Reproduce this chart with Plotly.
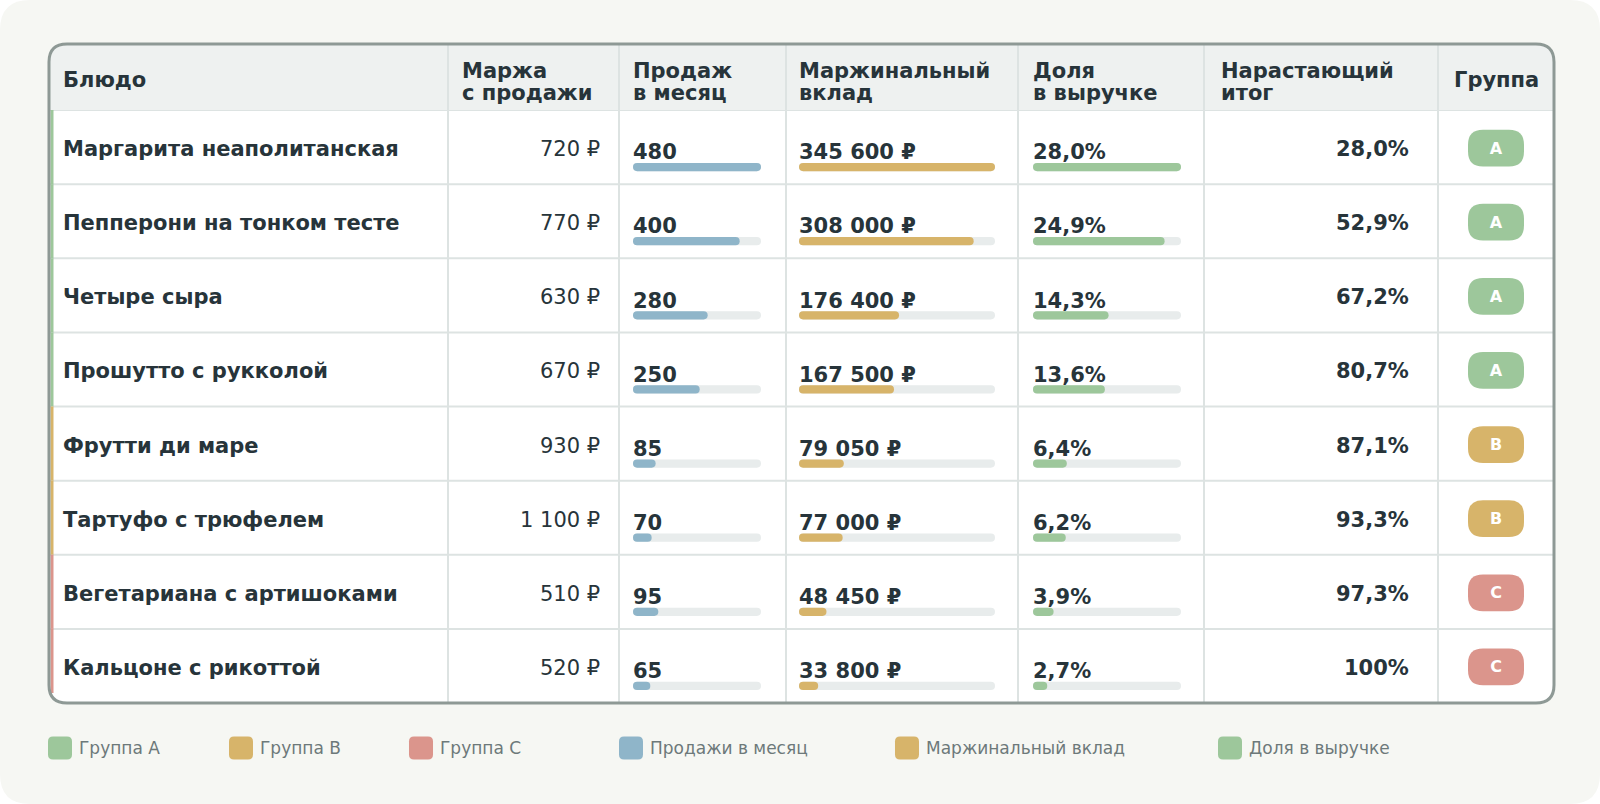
import plotly.graph_objects as go

W, H = 1600, 804

dishes = [
    "Маргарита неаполитанская",
    "Пепперони на тонком тесте",
    "Четыре сыра",
    "Прошутто с рукколой",
    "Фрутти ди маре",
    "Тартуфо с трюфелем",
    "Вегетариана с артишоками",
    "Кальцоне с рикоттой",
]
margin_rub = [720, 770, 630, 670, 930, 1100, 510, 520]
sales = [480, 400, 280, 250, 85, 70, 95, 65]
contribution = [345600, 308000, 176400, 167500, 79050, 77000, 48450, 33800]
share = [28.0, 24.9, 14.3, 13.6, 6.4, 6.2, 3.9, 2.7]
cumulative = [28.0, 52.9, 67.2, 80.7, 87.1, 93.3, 97.3, 100.0]
groups = ["A", "A", "A", "A", "B", "B", "C", "C"]

headers = [
    ["Блюдо"],
    ["Маржа", "с продажи"],
    ["Продаж", "в месяц"],
    ["Маржинальный", "вклад"],
    ["Доля", "в выручке"],
    ["Нарастающий", "итог"],
    ["Группа"],
]
legend_labels = ["Группа A", "Группа B", "Группа C",
                 "Продажи в месяц", "Маржинальный вклад", "Доля в выручке"]

# colours
TEXT = "#27343a"
GRID = "#dde3e2"
BORDER = "#8e9995"
HEAD_BG = "#eef1f0"
TRACK = "#e8ecec"
BLUE = "#8fb5c9"
GOLD = "#d7b46a"
GREEN = "#9dc79b"
RED = "#db958c"
group_colors = {"A": GREEN, "B": GOLD, "C": RED}
legend_colors = [GREEN, GOLD, RED, BLUE, GOLD, GREEN]
legend_x = [48, 229, 409, 619, 895, 1218]

# table geometry (px)
T_LEFT, T_RIGHT, T_TOP, HEAD_BOTTOM, T_BOTTOM = 49, 1554, 44, 110, 703
col_edges = [49, 448, 619, 786, 1018, 1204, 1438, 1554]
header_x = [61, 460, 631, 797, 1031, 1219, 1496]
n = len(dishes)
row_h = (T_BOTTOM - HEAD_BOTTOM) / n
FONT = "DejaVu Sans"
FS = 21


def px(x):
    return x / W


def py(y):
    return 1 - y / H


def rpath(x0, y0, x1, y1, r, rb=None):
    rb = r if rb is None else rb

    def p(x, y):
        return f"{x / W:.5f},{1 - y / H:.5f}"

    return (f"M{p(x0 + r, y0)} L{p(x1 - r, y0)} Q{p(x1, y0)} {p(x1, y0 + r)} "
            f"L{p(x1, y1 - rb)} Q{p(x1, y1)} {p(x1 - rb, y1)} L{p(x0 + rb, y1)} "
            f"Q{p(x0, y1)} {p(x0, y1 - rb)} L{p(x0, y0 + r)} Q{p(x0, y0)} {p(x0 + r, y0)} Z")


def pill(x0, x1, yc, xunit, h_px, r_px):
    # rounded bar in data units of its own axis; xunit = data units per px
    hy = h_px / 2 / row_h
    rx = min(r_px * xunit, (x1 - x0) / 2)
    ry = min(r_px, h_px / 2) / row_h
    t, b = yc - hy, yc + hy
    return (f"M{x0 + rx},{t} L{x1 - rx},{t} Q{x1},{t} {x1},{t + ry} "
            f"L{x1},{b - ry} Q{x1},{b} {x1 - rx},{b} L{x0 + rx},{b} "
            f"Q{x0},{b} {x0},{b - ry} L{x0},{t + ry} Q{x0},{t} {x0 + rx},{t} Z")


def fmt_num(v):
    return f"{v:,}".replace(",", " ")


def fmt_pct(v):
    return f"{v:.1f}".replace(".", ",") + "%"


fig = go.Figure()
rows = list(range(n))
shapes = []

# card background, table body and header
shapes.append(dict(type="path", path=rpath(0, 0, W, H, 30), xref="paper", yref="paper",
                   fillcolor="#f6f7f3", line_width=0, layer="below"))
shapes.append(dict(type="path", path=rpath(T_LEFT, T_TOP, T_RIGHT, T_BOTTOM, 18),
                   xref="paper", yref="paper", fillcolor="white", line_width=0, layer="below"))
shapes.append(dict(type="path", path=rpath(T_LEFT, T_TOP, T_RIGHT, HEAD_BOTTOM, 18, 0),
                   xref="paper", yref="paper", fillcolor=HEAD_BG, line_width=0, layer="below"))
# grid
for k in range(0, n):
    shapes.append(dict(type="line", xref="paper", yref="y", x0=px(T_LEFT), x1=px(T_RIGHT),
                       y0=k, y1=k, line=dict(color=GRID, width=2), layer="below"))
for xe in col_edges[1:-1]:
    shapes.append(dict(type="line", xref="paper", yref="paper", x0=px(xe), x1=px(xe),
                       y0=py(T_TOP), y1=py(T_BOTTOM), line=dict(color=GRID, width=2),
                       layer="below"))
# group stripes on the left
for i in rows:
    y1 = i + 1 if i < n - 1 else n - 10 / row_h
    shapes.append(dict(type="rect", xref="paper", yref="y", x0=px(50.5), x1=px(53.5),
                       y0=i, y1=y1, fillcolor=group_colors[groups[i]], line_width=0,
                       layer="below"))

# in-cell bars: track + value, each column on its own x axis
bar_cols = [("x2", sales, BLUE, 633, 761, lambda v: f"<b>{v}</b>"),
            ("x3", contribution, GOLD, 799, 995, lambda v: f"<b>{fmt_num(v)} ₽</b>"),
            ("x4", share, GREEN, 1033, 1181, lambda v: f"<b>{fmt_pct(v)}</b>")]
bar_y = [i + 0.5 + 20 / row_h for i in rows]
label_y = [i + 0.5 + 7 / row_h for i in rows]
for axis, vals, color, a, b, fmt in bar_cols:
    vmax = max(vals)
    unit = vmax / (b - a)
    for i in rows:
        shapes.append(dict(type="path", xref=axis, yref="y", layer="below", line_width=0,
                           fillcolor=TRACK, path=pill(0, vmax, bar_y[i], unit, 8.2, 4.1)))
        shapes.append(dict(type="path", xref=axis, yref="y", layer="below", line_width=0,
                           fillcolor=color, path=pill(0, vals[i], bar_y[i], unit, 8.2, 4.1)))
    fig.add_trace(go.Scatter(
        x=[0] * n, y=label_y, xaxis=axis, yaxis="y", mode="text",
        text=[fmt(v) for v in vals], textposition="middle right",
        textfont=dict(family=FONT, size=FS, color=TEXT),
        hoverinfo="skip", showlegend=False, cliponaxis=False,
    ))

# group badges
badge_y = [i + 0.5 + 1 / row_h for i in rows]
for i in rows:
    shapes.append(dict(type="path", xref="x5", yref="y", layer="below", line_width=0,
                       fillcolor=group_colors[groups[i]],
                       path=pill(0, 1, badge_y[i], 1 / 56, 36.7, 15)))
fig.add_trace(go.Scatter(
    x=[0.5] * n, y=[v + 1.5 / row_h for v in badge_y], xaxis="x5", yaxis="y",
    mode="text", text=[f"<b>{g}</b>" for g in groups], textposition="middle center",
    textfont=dict(family=FONT, size=16, color="white"),
    hoverinfo="skip", showlegend=False, cliponaxis=False,
))

layout_axes = dict(
    yaxis=dict(domain=[py(T_BOTTOM), py(HEAD_BOTTOM)], range=[n, 0], visible=False,
               fixedrange=True, anchor="x2"),
)
for idx, (axis, vals, color, a, b, fmt) in enumerate(bar_cols, start=2):
    layout_axes[f"xaxis{idx}"] = dict(domain=[px(a), px(b)], range=[0, max(vals)],
                                      visible=False, fixedrange=True, anchor="y")
layout_axes["xaxis5"] = dict(domain=[px(1468), px(1524)], range=[0, 1],
                             visible=False, fixedrange=True, anchor="y")

# outer border
shapes.append(dict(type="path", path=rpath(T_LEFT, T_TOP, T_RIGHT, T_BOTTOM, 18),
                   xref="paper", yref="paper", line=dict(color=BORDER, width=3)))
# legend swatches
for xl, c in zip(legend_x, legend_colors):
    shapes.append(dict(type="path", path=rpath(xl, 736.5, xl + 24, 759.5, 5),
                       xref="paper", yref="paper", fillcolor=c, line_width=0))

ann = []


def text(x, y, s, anchor="left", size=FS, color=TEXT, yref="y"):
    ann.append(dict(x=x, y=y, xref="paper", yref=yref, text=s, showarrow=False,
                    xanchor=anchor, yanchor="middle", align=anchor,
                    font=dict(family=FONT, size=size, color=color)))


# header
for xh, lines in zip(header_x, headers):
    anchor = "center" if xh == header_x[-1] else "left"
    if len(lines) == 1:
        text(px(xh), py(80), f"<b>{lines[0]}</b>", anchor, yref="paper")
    else:
        text(px(xh), py(71), f"<b>{lines[0]}</b>", anchor, yref="paper")
        text(px(xh), py(92.5), f"<b>{lines[1]}</b>", anchor, yref="paper")

for i in rows:
    yc = i + 0.5 + 2 / row_h
    text(px(61), yc, f"<b>{dishes[i]}</b>")
    text(px(602), yc, f"{fmt_num(margin_rub[i])} ₽", "right")
    cum = "100%" if cumulative[i] == 100 else fmt_pct(cumulative[i])
    text(px(1411), yc, f"<b>{cum}</b>", "right")

# legend labels
for xl, lab in zip(legend_x, legend_labels):
    text(px(xl + 29), py(748), lab, size=17, color="#6d797a", yref="paper")

fig.update_layout(
    width=W, height=H, margin=dict(l=0, r=0, t=0, b=0),
    paper_bgcolor="white", plot_bgcolor="rgba(0,0,0,0)",
    showlegend=False,
    shapes=shapes, annotations=ann,
    font=dict(family=FONT, color=TEXT),
    **layout_axes,
)

fig.write_html("out.html", config={"displayModeBar": False},
               post_script="document.body.style.margin='0';")
